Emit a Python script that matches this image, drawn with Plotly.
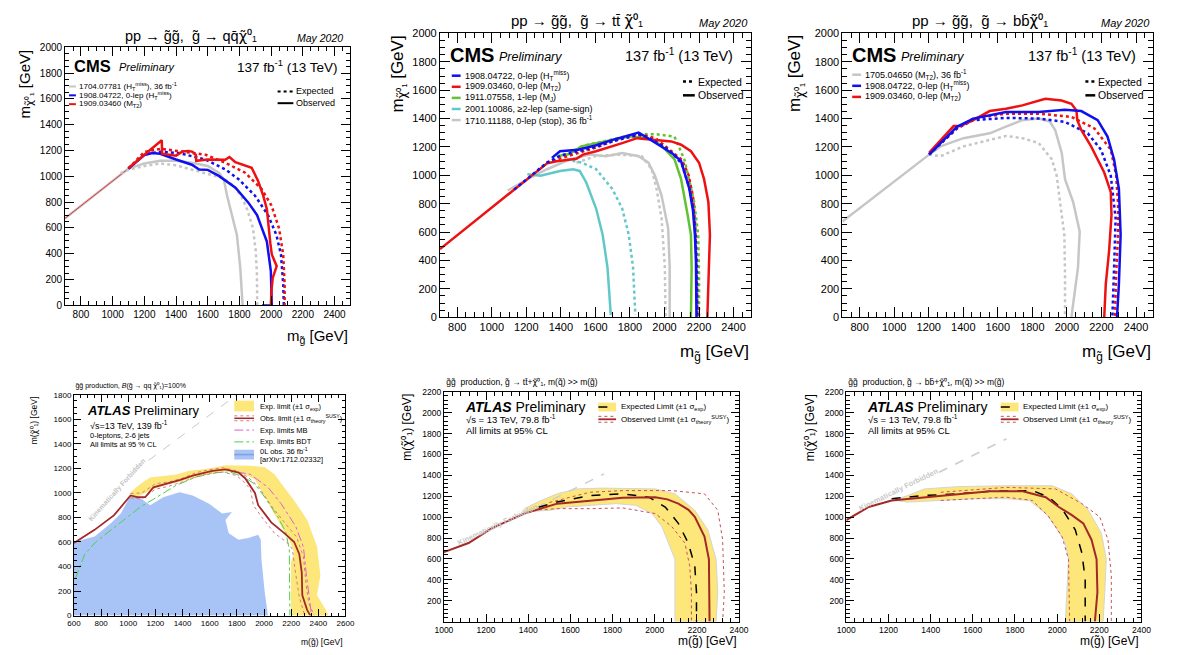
import plotly.graph_objects as go

W, H = 1181, 655
FONT = "Liberation Sans, Arial, sans-serif"

# ================= DATA =================
# ---- Panel 1: CMS  gluino -> q qbar chi ----
p1_diag_x = [700, 1100]
p1_diag_y = [675, 1060]
p1_gray_obs_x = [1100, 1200, 1300, 1400, 1500, 1600, 1670, 1701, 1722, 1753, 1784, 1805, 1820]
p1_gray_obs_y = [1060, 1100, 1120, 1120, 1105, 1080, 1028, 977, 850, 698, 546, 292, 0]
p1_gray_exp_x = [1050, 1100, 1200, 1300, 1400, 1500, 1600, 1700, 1760, 1810, 1850, 1885, 1903, 1910, 1912]
p1_gray_exp_y = [1025, 1050, 1080, 1100, 1085, 1050, 1020, 985, 930, 850, 740, 600, 420, 250, 0]
p1_blue_obs_x = [1100, 1200, 1250, 1300, 1400, 1500, 1546, 1600, 1670, 1775, 1855, 1911, 1973, 1998, 2004, 1942]
p1_blue_obs_y = [1060, 1165, 1180, 1175, 1130, 1090, 1053, 1050, 1003, 912, 798, 700, 494, 266, 0, 0]
p1_blue_exp_x = [1100, 1200, 1300, 1421, 1587, 1712, 1795, 1898, 1981, 2033, 2062, 2076, 2080]
p1_blue_exp_y = [1060, 1170, 1190, 1180, 1129, 1053, 977, 850, 698, 546, 393, 165, 0]
p1_red_exp_x = [1100, 1200, 1307, 1442, 1587, 1712, 1836, 1940, 2002, 2050, 2076, 2085, 2085]
p1_red_exp_y = [1060, 1190, 1213, 1193, 1167, 1104, 1028, 901, 774, 596, 393, 165, 0]
p1_red_obs_x = [1100, 1310, 1312, 1400, 1442, 1480, 1504, 1525, 1527, 1600, 1710, 1737, 1774, 1877, 1917,
                1950, 1973, 1980, 1995, 2004, 2035, 2010, 2002, 1998]
p1_red_obs_y = [1065, 1280, 1175, 1160, 1193, 1197, 1190, 1167, 1120, 1130, 1128, 1150, 1109, 1066, 966,
                850, 745, 646, 480, 395, 304, 213, 114, 0]

# ---- Panel 2: CMS  gluino -> t tbar chi ----
p2_gray_obs_x = [1092, 1225, 1320, 1452, 1566, 1661, 1755, 1850, 1907, 1945, 1983, 2021, 2030, 2030]
p2_gray_obs_y = [893, 985, 1043, 1112, 1146, 1135, 1158, 1135, 1089, 997, 858, 627, 350, 0]
p2_gray_exp_x = [1490, 1600, 1736, 1869, 1926, 1954, 1983, 2002, 2006]
p2_gray_exp_y = [1089, 1135, 1146, 1135, 1043, 904, 697, 350, 0]
p2_cyan_obs_x = [1206, 1282, 1395, 1471, 1509, 1547, 1604, 1642, 1670, 1689]
p2_cyan_obs_y = [1008, 997, 1031, 1043, 1031, 950, 766, 581, 350, 16]
p2_cyan_exp_x = [1433, 1520, 1604, 1698, 1755, 1793, 1818, 1831]
p2_cyan_exp_y = [1112, 1090, 1043, 904, 766, 581, 350, 16]
p2_green_obs_x = [1376, 1450, 1518, 1600, 1700, 1800, 1900, 1980, 2058, 2096, 2134, 2153, 2157, 2153]
p2_green_obs_y = [1135, 1150, 1204, 1225, 1252, 1275, 1262, 1215, 1112, 973, 720, 581, 350, 0]
p2_green_exp_x = [1450, 1550, 1650, 1750, 1850, 1950, 2058, 2115, 2172, 2195, 2200, 2200]
p2_green_exp_y = [1160, 1215, 1240, 1268, 1290, 1290, 1273, 1112, 812, 581, 300, 0]
p2_red_obs_x = [700, 1320, 1376, 1490, 1528, 1604, 1755, 1841, 1900, 2040, 2096, 2153, 2200, 2229, 2254, 2263, 2257, 2248]
p2_red_obs_y = [480, 1085, 1100, 1117, 1146, 1170, 1227, 1262, 1255, 1239, 1216, 1170, 1089, 973, 812, 581, 350, 0]
p2_red_exp_x = [1320, 1400, 1500, 1600, 1700, 1800, 1870, 1950, 2000, 2050, 2100, 2140, 2165, 2178, 2185, 2188, 2190]
p2_red_exp_y = [1090, 1120, 1160, 1195, 1240, 1280, 1285, 1260, 1210, 1160, 1110, 1000, 850, 650, 400, 200, 0]
p2_blue_obs_x = [1348, 1395, 1500, 1600, 1700, 1800, 1850, 1900, 2000, 2050, 2096, 2144, 2165, 2176, 2182, 2185, 2185]
p2_blue_obs_y = [1123, 1170, 1180, 1210, 1250, 1285, 1301, 1265, 1190, 1150, 1100, 904, 750, 581, 400, 200, 0]
p2_blue_exp_x = [1130, 1320, 1400, 1500, 1600, 1700, 1800, 1850, 1900, 2000, 2050, 2100, 2140, 2165, 2180, 2188, 2190]
p2_blue_exp_y = [900, 1090, 1140, 1170, 1200, 1240, 1270, 1285, 1270, 1200, 1150, 1080, 930, 780, 580, 350, 0]

# ---- Panel 3: CMS  gluino -> b bbar chi ----
p3_diag_x = [700, 1202]
p3_diag_y = [675, 1146]
p3_gray_obs_x = [1202, 1268, 1401, 1553, 1647, 1742, 1837, 1900, 1932, 1970, 1989, 2036, 2074, 2064, 2026]
p3_gray_obs_y = [1146, 1204, 1262, 1296, 1343, 1389, 1400, 1380, 1320, 1158, 973, 812, 604, 350, 0]
p3_gray_exp_x = [1202, 1268, 1401, 1553, 1647, 1742, 1837, 1913, 1941, 1960, 1985, 1989, 1989]
p3_gray_exp_y = [1146, 1135, 1204, 1250, 1278, 1262, 1227, 1112, 997, 812, 581, 300, 0]
p3_red_obs_x = [1202, 1344, 1382, 1458, 1553, 1647, 1742, 1875, 1969, 2026, 2055, 2060, 2083, 2140, 2216, 2254, 2258, 2244, 2225, 2216]
p3_red_obs_y = [1158, 1347, 1347, 1389, 1453, 1469, 1493, 1539, 1527, 1504, 1458, 1389, 1320, 1204, 1020, 881, 720, 466, 235, 0]
p3_red_exp_x = [1202, 1363, 1458, 1647, 1837, 2026, 2159, 2254, 2285, 2296, 2296, 2285, 2278]
p3_red_exp_y = [1150, 1330, 1400, 1435, 1435, 1412, 1331, 1181, 1000, 800, 581, 300, 0]
p3_blue_obs_x = [1202, 1363, 1458, 1647, 1837, 1988, 2083, 2178, 2235, 2273, 2301, 2311, 2301, 2290]
p3_blue_obs_y = [1146, 1342, 1400, 1446, 1446, 1463, 1453, 1389, 1273, 1112, 904, 581, 235, 0]
p3_blue_exp_x = [1202, 1363, 1458, 1647, 1837, 1988, 2121, 2197, 2254, 2282, 2273, 2263]
p3_blue_exp_y = [1146, 1331, 1389, 1405, 1400, 1377, 1296, 1181, 997, 697, 350, 0]

# ---- Panel 4: ATLAS  gluino -> q q chi ----
p4_prev_x = [600, 600, 752, 872, 945, 1017, 1065, 1161, 1258, 1378, 1475, 1595, 1692, 1764, 1716, 1740,
             1812, 1884, 1957, 1976, 1981, 2005, 2029]
p4_prev_y = [0, 600, 645, 752, 832, 979, 979, 899, 965, 1005, 979, 912, 832, 845, 779, 672,
             619, 632, 659, 619, 459, 192, 0]
p4_band_up_x = [1017, 1089, 1161, 1258, 1354, 1450, 1595, 1716, 1812, 1909, 2005, 2077, 2149, 2222, 2318,
                2390, 2415, 2390, 2463, 2475]
p4_band_up_y = [1005, 1072, 1125, 1139, 1150, 1180, 1200, 1225, 1222, 1222, 1210, 1152, 1045, 939, 779,
                566, 326, 166, 32, 0]
p4_band_lo_x = [2198, 2198, 2222, 2186, 2101, 2005, 1933, 1860, 1716, 1595, 1450, 1354, 1258, 1161, 1089, 1017]
p4_band_lo_y = [0, 432, 512, 619, 779, 965, 1112, 1150, 1179, 1152, 1110, 1085, 1059, 1019, 979, 965]
p4_obs_x = [600, 752, 896, 1017, 1065, 1125, 1185, 1282, 1378, 1475, 1619, 1716, 1812, 1861, 1900, 1933,
            1957, 2053, 2149, 2222, 2260, 2278, 2282, 2318, 2342]
p4_obs_y = [592, 699, 819, 979, 965, 965, 1045, 1072, 1104, 1140, 1179, 1192, 1165, 1120, 1060, 1000,
            900, 760, 672, 600, 500, 350, 166, 45, 0]
p4_obs_up_x = [1017, 1100, 1200, 1300, 1400, 1500, 1600, 1700, 1800, 1880, 1960, 2050, 2150, 2240, 2290, 2310, 2330, 2370]
p4_obs_up_y = [995, 1000, 1075, 1090, 1120, 1165, 1190, 1205, 1180, 1130, 1050, 900, 760, 640, 480, 250, 100, 0]
p4_obs_dn_x = [1017, 1100, 1200, 1300, 1400, 1500, 1600, 1700, 1800, 1860, 1900, 1909, 1921, 1981, 2077, 2174, 2210, 2225, 2260, 2300]
p4_obs_dn_y = [960, 950, 1030, 1055, 1090, 1130, 1160, 1170, 1140, 1080, 1030, 960, 900, 806, 672, 592, 539, 400, 150, 0]
p4_mb_x = [1800, 1898, 2029, 2126, 2234, 2290, 2310, 2330, 2350]
p4_mb_y = [1170, 1152, 1046, 912, 726, 560, 350, 150, 0]
p4_bdt_x = [610, 680, 760, 850, 970, 1089, 1210, 1350, 1500, 1650, 1750, 1850, 1932, 2005, 2101, 2160, 2186, 2186, 2190]
p4_bdt_y = [300, 500, 600, 680, 780, 885, 965, 1060, 1130, 1165, 1170, 1130, 1072, 966, 806, 680, 540, 300, 0]
p4_kf_x = [1150, 1800]
p4_kf_y = [1265, 1800]

# ---- Panel 5: ATLAS  gluino -> t tbar chi ----
p5_band_up_x = [1381, 1450, 1537, 1630, 1750, 1848, 2003, 2096, 2190, 2252, 2291, 2299, 2291]
p5_band_up_y = [1081, 1150, 1223, 1270, 1278, 1276, 1270, 1223, 1066, 878, 596, 282, 0]
p5_band_lo_x = [2096, 2096, 2065, 2034, 1988, 1910, 1817, 1692, 1583, 1505, 1381]
p5_band_lo_y = [0, 596, 752, 909, 1034, 1113, 1129, 1113, 1097, 1066, 1050]
p5_obs_x = [1000, 1117, 1226, 1381, 1537, 1692, 1848, 2003, 2060, 2112, 2160, 2190, 2236, 2257, 2260, 2260]
p5_obs_y = [665, 752, 893, 1034, 1129, 1160, 1185, 1191, 1170, 1129, 1070, 1003, 815, 596, 282, 0]
p5_exp_x = [1450, 1537, 1692, 1848, 1972, 2050, 2112, 2159, 2190, 2198, 2198]
p5_exp_y = [1095, 1144, 1207, 1223, 1191, 1097, 940, 752, 533, 282, 0]
p5_obs_up_x = [1500, 1692, 1848, 2081, 2236, 2299, 2322, 2330, 2322]
p5_obs_up_y = [1140, 1238, 1254, 1254, 1223, 1066, 784, 282, 0]
p5_obs_dn_x = [1450, 1537, 1692, 1848, 2003, 2081, 2143, 2166, 2174, 2174]
p5_obs_dn_y = [1070, 1081, 1081, 1088, 1034, 909, 752, 533, 282, 0]
p5_kf_x = [1440, 1760]
p5_kf_y = [1094, 1414]

# ---- Panel 6: ATLAS  gluino -> b bbar chi ----
p6_band_up_x = [1230, 1292, 1370, 1526, 1759, 1977, 2070, 2148, 2210, 2233, 2226, 2218]
p6_band_up_y = [1165, 1207, 1270, 1292, 1301, 1301, 1223, 1066, 846, 596, 282, 0]
p6_band_lo_x = [2039, 2054, 2039, 1992, 1946, 1868, 1759, 1603, 1448, 1292, 1230]
p6_band_lo_y = [0, 596, 752, 909, 1034, 1160, 1176, 1176, 1160, 1144, 1160]
p6_obs_x = [1000, 1106, 1215, 1370, 1526, 1681, 1837, 1946, 2008, 2070, 2124, 2163, 2187, 2191, 2179]
p6_obs_y = [972, 1097, 1160, 1191, 1223, 1248, 1248, 1191, 1097, 1019, 940, 784, 596, 282, 0]
p6_exp_x = [1215, 1370, 1526, 1681, 1883, 1961, 2023, 2086, 2117, 2133, 2133]
p6_exp_y = [1176, 1207, 1223, 1248, 1254, 1191, 1081, 878, 659, 408, 0]
p6_obs_up_x = [1448, 1759, 1992, 2117, 2202, 2241, 2257, 2257]
p6_obs_up_y = [1238, 1285, 1270, 1129, 1003, 784, 439, 0]
p6_obs_dn_x = [1448, 1759, 1883, 1961, 2023, 2054, 2059]
p6_obs_dn_y = [1160, 1191, 1160, 1003, 815, 596, 0]
p6_kf_x = [1440, 1760]
p6_kf_y = [1430, 1750]

# axis ranges / tick steps
cms_xrange, cms_yrange = [700, 2500], [0, 2000]
atl4_xrange, atl4_yrange = [600, 2600], [0, 1800]
atl_xrange, atl_yrange = [1000, 2400], [0.5, 2200]
tick_step = 200

# ================= STYLE =================
RED = "#ee1111"
BLUE = "#1010ee"
GRAY = "#c6c6c6"
GREEN = "#62c232"
CYAN = "#60c8c8"
DRED = "#a32828"
PINK = "#d87a86"
YEL = "#fde67a"
LBLUE = "rgb(168,196,246)"

fig = go.Figure()


def line(ax, x, y, color, width=2.5, dash="solid", opacity=1.0):
    fig.add_trace(go.Scatter(x=x, y=y, mode="lines", xaxis="x" + ax, yaxis="y" + ax,
                             line=dict(color=color, width=width, dash=dash), opacity=opacity,
                             hoverinfo="skip", showlegend=False))


def fill(ax, x, y, color, lcolor=None, lwidth=0):
    fig.add_trace(go.Scatter(x=x, y=y, mode="lines", fill="toself", fillcolor=color,
                             xaxis="x" + ax, yaxis="y" + ax,
                             line=dict(color=lcolor or color, width=lwidth),
                             hoverinfo="skip", showlegend=False))


# Panel 1
line("", p1_diag_x, p1_diag_y, GRAY, 2.5)
line("", p1_diag_x, p1_diag_y, RED, 0.8)
line("", p1_gray_exp_x, p1_gray_exp_y, GRAY, 2.5, "dot")
line("", p1_gray_obs_x, p1_gray_obs_y, GRAY, 2.5)
line("", p1_blue_exp_x, p1_blue_exp_y, BLUE, 2.5, "dot")
line("", p1_red_exp_x, p1_red_exp_y, RED, 2.5, "dot")
line("", p1_blue_obs_x, p1_blue_obs_y, BLUE, 2.5)
line("", p1_red_obs_x, p1_red_obs_y, RED, 2.5)

# Panel 2
line("2", p2_gray_exp_x, p2_gray_exp_y, GRAY, 2.5, "dot")
line("2", p2_gray_obs_x, p2_gray_obs_y, GRAY, 2.5)
line("2", p2_cyan_exp_x, p2_cyan_exp_y, CYAN, 2.5, "dot")
line("2", p2_cyan_obs_x, p2_cyan_obs_y, CYAN, 2.5)
line("2", p2_green_exp_x, p2_green_exp_y, GREEN, 2.5, "dot")
line("2", p2_green_obs_x, p2_green_obs_y, GREEN, 2.5)
line("2", p2_red_exp_x, p2_red_exp_y, RED, 2.5, "dot")
line("2", p2_red_obs_x, p2_red_obs_y, RED, 2.5)
line("2", p2_blue_exp_x, p2_blue_exp_y, BLUE, 2.5, "dot")
line("2", p2_blue_obs_x, p2_blue_obs_y, BLUE, 2.5)

# Panel 3
line("3", p3_diag_x, p3_diag_y, GRAY, 2.5)
line("3", p3_gray_exp_x, p3_gray_exp_y, GRAY, 2.5, "dot")
line("3", p3_gray_obs_x, p3_gray_obs_y, GRAY, 2.5)
line("3", p3_red_exp_x, p3_red_exp_y, RED, 2.5, "dot")
line("3", p3_blue_exp_x, p3_blue_exp_y, BLUE, 2.5, "dot")
line("3", p3_red_obs_x, p3_red_obs_y, RED, 2.5)
line("3", p3_blue_obs_x, p3_blue_obs_y, BLUE, 2.5)

# Panel 4
fill("4", p4_prev_x, p4_prev_y, LBLUE)
fill("4", p4_band_up_x + p4_band_lo_x, p4_band_up_y + p4_band_lo_y, YEL)
line("4", p4_kf_x, p4_kf_y, "#c8c8c8", 1, "dash")
line("4", p4_bdt_x, p4_bdt_y, "#4cd04c", 1, "dashdot")
line("4", p4_mb_x, p4_mb_y, "#d860d8", 1, "dashdot")
line("4", p4_obs_up_x, p4_obs_up_y, PINK, 1, "dot")
line("4", p4_obs_dn_x, p4_obs_dn_y, PINK, 1, "dot")
line("4", p4_obs_x, p4_obs_y, DRED, 1.8)

# Panel 5
fill("5", p5_band_up_x + p5_band_lo_x, p5_band_up_y + p5_band_lo_y, YEL, "#d4d4d4", 1)
line("5", p5_kf_x, p5_kf_y, "#cccccc", 1.5, "dash")
line("5", p5_obs_up_x, p5_obs_up_y, "#c8505a", 1, "dot")
line("5", p5_obs_dn_x, p5_obs_dn_y, "#c8505a", 1, "dot")
line("5", p5_exp_x, p5_exp_y, "black", 1.5, "dash")
line("5", p5_obs_x, p5_obs_y, DRED, 2)

# Panel 6
fill("6", p6_band_up_x + p6_band_lo_x, p6_band_up_y + p6_band_lo_y, YEL, "#d4d4d4", 1)
line("6", p6_kf_x, p6_kf_y, "#cccccc", 1.5, "dash")
line("6", p6_obs_up_x, p6_obs_up_y, "#c8505a", 1, "dot")
line("6", p6_obs_dn_x, p6_obs_dn_y, "#c8505a", 1, "dot")
line("6", p6_exp_x, p6_exp_y, "black", 1.5, "dash")
line("6", p6_obs_x, p6_obs_y, DRED, 2)

# ================= AXES =================
boxes = {
    "": ([57, 347], [42, 305]),
    "2": ([438, 754], [28, 317]),
    "3": ([847, 1163], [28, 317]),
    "4": ([66, 342], [396, 621]),
    "5": ([442, 742], [393, 627]),
    "6": ([851, 1151], [393, 627]),
}


def axis(dom, rng, fsize, tlen, mdt, anchor):
    return dict(domain=dom, range=rng, tickmode="linear", tick0=0, dtick=tick_step,
                ticks="inside", ticklen=tlen, tickwidth=1, tickcolor="black",
                showline=True, linecolor="black", linewidth=1, mirror="allticks",
                showgrid=False, zeroline=False, anchor=anchor,
                tickfont=dict(family=FONT, size=fsize, color="black"),
                minor=dict(ticks="inside", ticklen=max(3, tlen // 2), dtick=mdt, tick0=0,
                           tickwidth=1, tickcolor="black", showgrid=False))


layout = {}
cfg = {
    "": (cms_xrange, cms_yrange, 10, 9, 50, 50),
    "2": (cms_xrange, cms_yrange, 11, 10, 50, 50),
    "3": (cms_xrange, cms_yrange, 11, 10, 50, 50),
    "4": (atl4_xrange, atl4_yrange, 8, 7, 50, 50),
    "5": (atl_xrange, atl_yrange, 8.5, 8, 40, 40),
    "6": (atl_xrange, atl_yrange, 8.5, 8, 40, 40),
}
for k, (xr, yr, fs, tl, mx, my) in cfg.items():
    (x0, x1), (y0, y1) = boxes[k]
    layout["xaxis" + k] = axis([x0 / W, x1 / W], xr, fs, tl, mx, "y" + k)
    layout["yaxis" + k] = axis([1 - y1 / H, 1 - y0 / H], yr, fs, tl, my, "x" + k)

# ================= TEXT =================
ann = []
shapes = []


def txt(x, y, s, size, xa="left", ya="middle", color="black", angle=0, fam=FONT):
    ann.append(dict(x=x / W, y=1 - y / H, xref="paper", yref="paper", text=s, showarrow=False,
                    xanchor=xa, yanchor=ya, textangle=angle,
                    font=dict(family=fam, size=size, color=color)))


def dtxt(ax, x, y, s, size, color, angle):
    ann.append(dict(x=x, y=y, xref="x" + ax, yref="y" + ax, text=s, showarrow=False,
                    xanchor="center", yanchor="middle", textangle=angle,
                    font=dict(family=FONT, size=size, color=color)))


def seg(x0, x1, y, color, width=2, dash="solid"):
    shapes.append(dict(type="line", xref="paper", yref="paper", x0=x0 / W, x1=x1 / W,
                       y0=1 - y / H, y1=1 - y / H, line=dict(color=color, width=width, dash=dash)))


def rect(x0, y0, x1, y1, color):
    shapes.append(dict(type="rect", xref="paper", yref="paper", x0=x0 / W, x1=x1 / W,
                       y0=1 - y1 / H, y1=1 - y0 / H, fillcolor=color, line=dict(width=0)))


CHI = '<span style="font-family:DejaVu Sans">χ̃</span><sup>0</sup><sub>1</sub>'
CHIS = '<span style="font-family:DejaVu Sans">χ̃</span>⁰₁'
# ---- Panel 1 text
txt(185, 31, "pp → g̃g̃,  g̃ → qq̄" + CHIS, 14.5, "center")
txt(341, 33, "<i>May 2020</i>", 10.5, "right")
txt(64, 61, "<b>CMS</b>", 16.5)
txt(110, 62, "<i>Preliminary</i>", 11)
txt(335, 61, "137 fb<sup>-1</sup> (13 TeV)", 13.5, "right")
for yy, col, s in [(82, GRAY, "1704.07781 (H<sub>T</sub><sup>miss</sup>), 36 fb<sup>-1</sup>"),
                   (91, BLUE, "1908.04722, 0-lep (H<sub>T</sub><sup>miss</sup>)"),
                   (100, RED, "1909.03460 (M<sub>T2</sub>)")]:
    seg(61, 68, yy, col, 2)
    txt(69, yy, s, 8)
seg(273, 289, 87, "black", 2, "dot")
txt(290, 87, "Expected", 9)
seg(273, 289, 99, "black", 2)
txt(290, 99, "Observed", 9)
txt(17, 42, "m<sub>" + CHIS + "</sub> [GeV]", 15, "center", "top", angle=-90)
txt(347, 337, "m<sub>g̃</sub> [GeV]", 15, "right")

# ---- Panel 2 text
txt(577, 15, "pp → g̃g̃,  g̃ → tt̄ " + CHIS, 15, "center")
txt(753, 17, "<i>May 2020</i>", 11, "right")
txt(446, 50, "<b>CMS</b>", 20)
txt(496, 52, "<i>Preliminary</i>", 12.5)
txt(738, 50, "137 fb<sup>-1</sup> (13 TeV)", 14.5, "right")
for i, (col, s) in enumerate([(BLUE, "1908.04722, 0-lep (H<sub>T</sub><sup>miss</sup>)"),
                              (RED, "1909.03460, 0-lep (M<sub>T2</sub>)"),
                              (GREEN, "1911.07558, 1-lep (M<sub>J</sub>)"),
                              (CYAN, "2001.10086, ≥2-lep (same-sign)"),
                              (GRAY, "1710.11188, 0-lep (stop), 36 fb<sup>-1</sup>")]):
    yy = 71 + 11.3 * i
    seg(450, 459, yy, col, 2.5)
    txt(461, yy, s, 9)
seg(685, 697, 77, "black", 2.5, "dot")
txt(698, 77, "Expected", 10.5)
seg(685, 697, 91, "black", 2.5)
txt(698, 91, "Observed", 10.5)
txt(396, 28, "m<sub>" + CHIS + "</sub> [GeV]", 17, "center", "top", angle=-90)
txt(754, 353, "m<sub>g̃</sub> [GeV]", 17, "right")

# ---- Panel 3 text
txt(987, 15, "pp → g̃g̃,  g̃ → bb̄" + CHIS, 15, "center")
txt(1162, 17, "<i>May 2020</i>", 11, "right")
txt(855, 50, "<b>CMS</b>", 20)
txt(905, 52, "<i>Preliminary</i>", 12.5)
txt(1147, 50, "137 fb<sup>-1</sup> (13 TeV)", 14.5, "right")
for i, (col, s) in enumerate([(GRAY, "1705.04650 (M<sub>T2</sub>), 36 fb<sup>-1</sup>"),
                              (BLUE, "1908.04722, 0-lep (H<sub>T</sub><sup>miss</sup>)"),
                              (RED, "1909.03460, 0-lep (M<sub>T2</sub>)")]):
    yy = 70 + 11.3 * i
    seg(857, 866, yy, col, 2.5)
    txt(868, yy, s, 9)
seg(1094, 1104, 77, "black", 2.5, "dot")
txt(1105, 77, "Expected", 10.5)
seg(1094, 1104, 91, "black", 2.5)
txt(1105, 91, "Observed", 10.5)
txt(800, 28, "m<sub>" + CHIS + "</sub> [GeV]", 17, "center", "top", angle=-90)
txt(1163, 353, "m<sub>g̃</sub> [GeV]", 17, "right")

# ---- Panel 4 text
txt(65, 387, "g̃g̃ production, <i>B</i>(g̃ → qq " + CHIS + ")=100%", 7)
txt(77, 412, "<b><i>ATLAS</i></b> Preliminary", 13)
txt(80, 427, "√s=13 TeV, 139 fb<sup>-1</sup>", 9)
txt(80, 438, "0-leptons, 2-6 jets", 7.5)
txt(80, 447, "All limits at 95 % CL", 7.5)
rect(229, 402, 249, 413, YEL)
txt(253, 408, "Exp. limit (±1 σ<sub>exp</sub>)", 7.5)
seg(229, 249, 420, DRED, 1.5)
seg(229, 249, 417.5, PINK, 1, "dot")
seg(229, 249, 422.5, PINK, 1, "dot")
txt(253, 420, "Obs. limit (±1 σ<sub>theory</sub><sup>SUSY</sup>)", 7.5)
seg(229, 249, 432, "#d860d8", 1, "dashdot")
txt(253, 432, "Exp. limits MB", 7.5)
seg(229, 249, 444, "#4cd04c", 1, "dashdot")
txt(253, 444, "Exp. limits BDT", 7.5)
rect(229, 452, 249, 462, LBLUE)
seg(229, 249, 457, "#7f9fe0", 1.5)
txt(253, 453, "0L obs. 36 fb<sup>-1</sup>", 7.5)
txt(253, 462, "[arXiv:1712.02332]", 7.5)
txt(25, 396, "m(" + CHIS + ") [GeV]", 8.5, "center", "top", angle=-90)
txt(342, 648, "m(g̃) [GeV]", 8.5, "right")
dtxt("4", 920, 1020, "<b>Kinematically Forbidden</b>", 7, "#c4c4c4", -48)

# ---- Panel 5 text
txt(442, 383, "g̃g̃  production, g̃ → tt̄+" + CHIS + ", m(q̃) >> m(g̃)", 8.5)
txt(461, 408, "<b><i>ATLAS</i></b> Preliminary", 14)
txt(462, 421, "√s = 13 TeV, 79.8 fb<sup>-1</sup>", 9.5)
txt(462, 432, "All limits at 95% CL", 9.5)
rect(599, 404, 617, 413, YEL)
seg(599, 617, 408.5, "black", 1.5, "dash")
txt(620, 408, "Expected Limit (±1 σ<sub>exp</sub>)", 8)
seg(599, 617, 421, DRED, 1.8)
seg(599, 617, 418, "#c8505a", 1, "dot")
seg(599, 617, 424, "#c8505a", 1, "dot")
txt(620, 421, "Observed Limit (±1 σ<sub>theory</sub><sup>SUSY</sup>)", 8)
txt(405, 393, "m(" + CHIS + ") [GeV]", 12, "center", "top", angle=-90)
txt(742, 647, "m(g̃) [GeV]", 12, "right")
dtxt("5", 1257, 925, "<b>Kinematically Forbidden</b>", 7.5, "#c8c8c8", -25)

# ---- Panel 6 text
txt(851, 383, "g̃g̃  production, g̃ → bb̄+" + CHIS + ", m(q̃) >> m(g̃)", 8.5)
txt(870, 408, "<b><i>ATLAS</i></b> Preliminary", 14)
txt(871, 421, "√s = 13 TeV, 79.8 fb<sup>-1</sup>", 9.5)
txt(871, 432, "All limits at 95% CL", 9.5)
rect(1008, 404, 1026, 413, YEL)
seg(1008, 1026, 408.5, "black", 1.5, "dash")
txt(1029, 408, "Expected Limit (±1 σ<sub>exp</sub>)", 8)
seg(1008, 1026, 421, DRED, 1.8)
seg(1008, 1026, 418, "#c8505a", 1, "dot")
seg(1008, 1026, 424, "#c8505a", 1, "dot")
txt(1029, 421, "Observed Limit (±1 σ<sub>theory</sub><sup>SUSY</sup>)", 8)
txt(814, 393, "m(" + CHIS + ") [GeV]", 12, "center", "top", angle=-90)
txt(1151, 647, "m(g̃) [GeV]", 12, "right")
dtxt("6", 1249, 1262, "<b>Kinematically Forbidden</b>", 7.5, "#c8c8c8", -26)

fig.update_layout(width=W, height=H, margin=dict(l=0, r=0, t=0, b=0),
                  paper_bgcolor="white", plot_bgcolor="white", showlegend=False,
                  font=dict(family=FONT, color="black"),
                  annotations=ann, shapes=shapes, **layout)
fig.write_html("out.html")
